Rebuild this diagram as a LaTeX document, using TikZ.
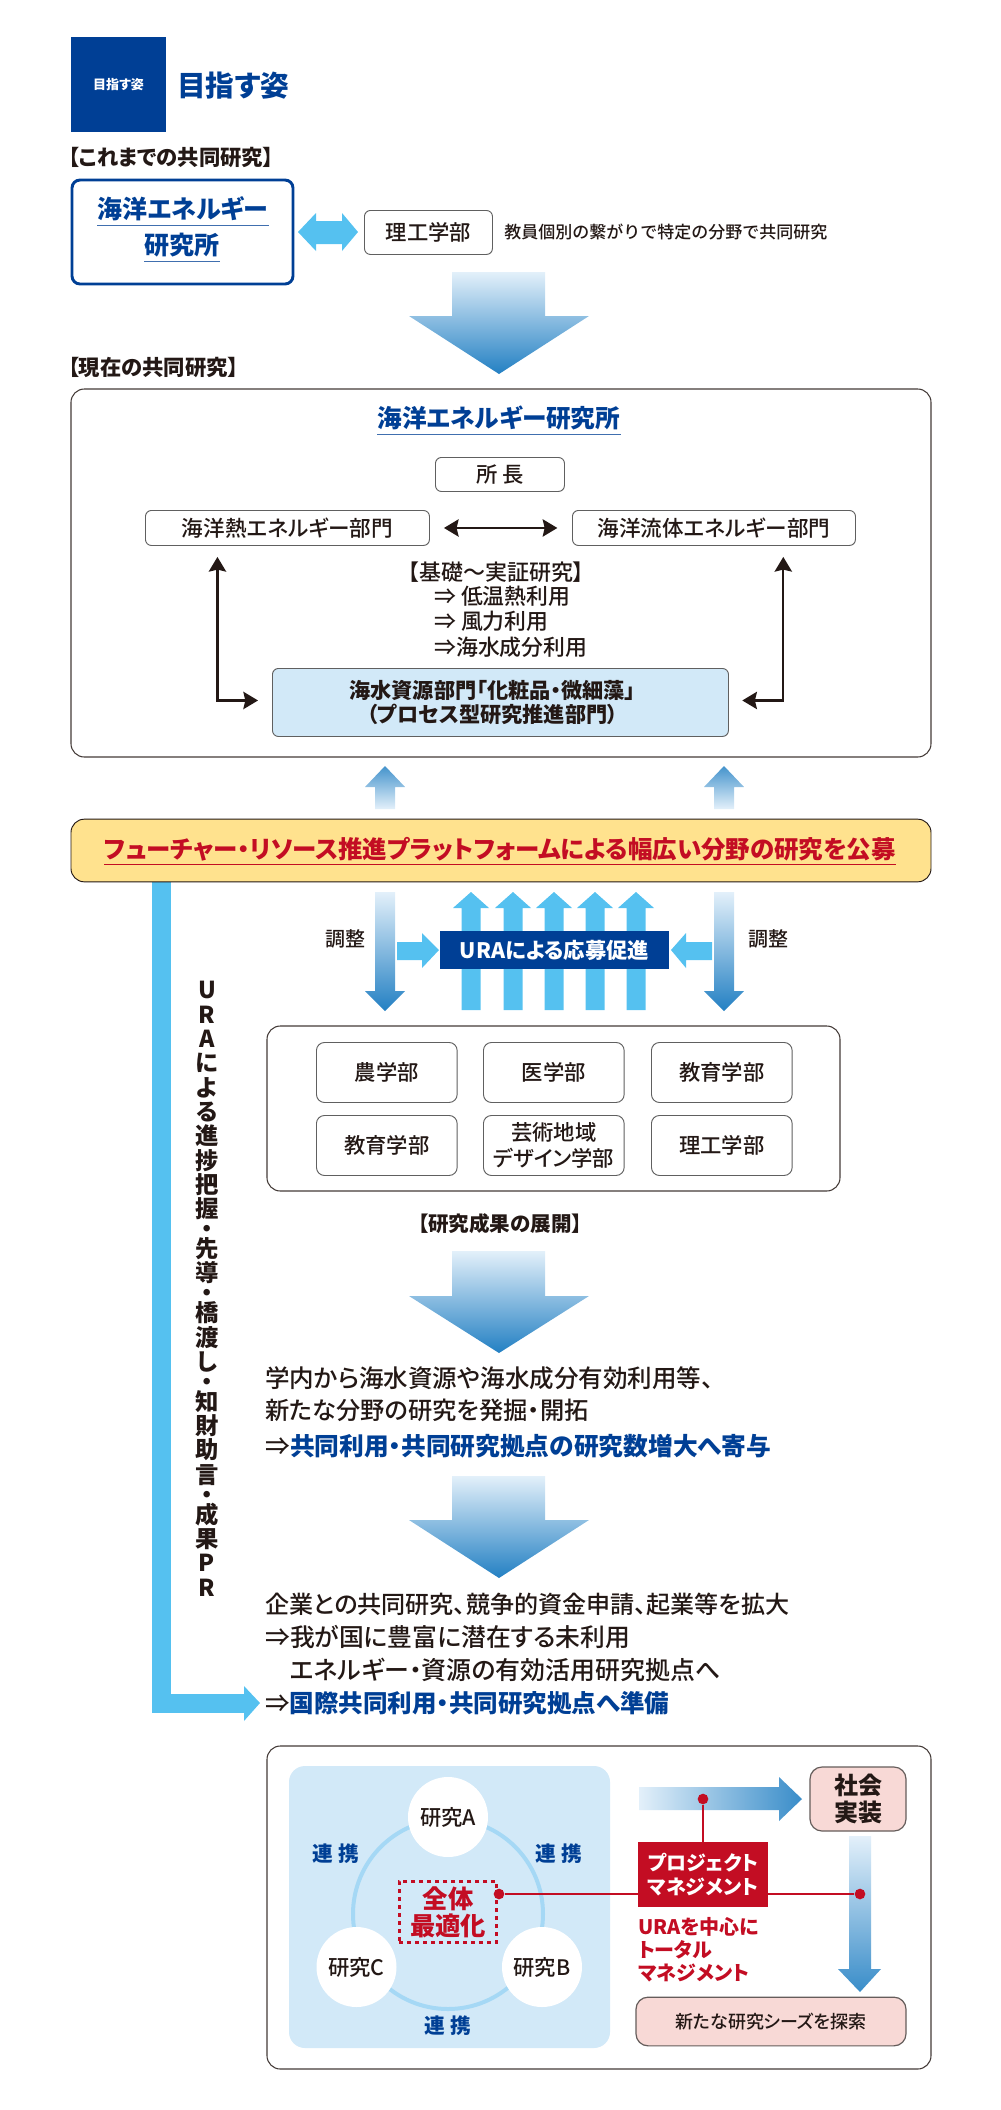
\documentclass[tikz,border=0pt]{standalone}
\usepackage{fontspec}
\setmainfont{Noto Sans CJK JP}[UprightFont={* Medium}, BoldFont={*/B}, RawFeature={+palt}]
\newfontfamily\fullwidth{Noto Sans CJK JP Medium}
\usetikzlibrary{arrows.meta}
\definecolor{ink}{HTML}{231815}
\definecolor{navy}{HTML}{003F95}
\definecolor{sky}{HTML}{55C1F0}
\definecolor{pale}{HTML}{D2E9F8}
\definecolor{ring}{HTML}{A5D8F5}
\definecolor{crimson}{HTML}{C30D23}
\definecolor{butter}{HTML}{FFE28E}
\definecolor{blush}{HTML}{F8D9D6}
\definecolor{fadetop}{HTML}{E3F0FA}
\definecolor{fadeend}{HTML}{2380C3}
\newcommand{\fz}[2][24]{\fontsize{#2}{#1}\selectfont}
\tikzset{
	lab/.style={inner sep=0pt, text=ink},
	box/.style={draw=gray!75!black, line width=0.7pt, rounded corners=4.5pt, fill=white, text=ink, inner sep=0pt, align=center, anchor=north west},
	bigbox/.style={draw=ink!85, line width=0.8pt, rounded corners=10pt, fill=white},
	pinkbox/.style={draw=ink!70, line width=0.9pt, rounded corners=9pt, fill=blush, inner sep=0pt, align=center, text=ink},
	fadedown/.style={top color=fadetop, bottom color=fadeend},
	fadeup/.style={top color=fadeend!85!white, bottom color=fadetop},
	uline/.style={draw=navy!75!white, line width=0.8pt},
	bidir/.style={draw=ink, line width=1.6pt, {Stealth[length=11pt,width=13pt,inset=1.5pt]}-{Stealth[length=11pt,width=13pt,inset=1.5pt]}},
	redline/.style={draw=crimson, line width=1pt},
	reddot/.style={circle, fill=crimson, inner sep=0pt, minimum size=8pt},
	seminar/.style={circle, fill=white, inner sep=0pt, minimum size=60pt, text=ink, font=\fz{16}},
	cooperate/.style={lab, text=navy, font=\bfseries\fz{15.5}},
}
\begin{document}
\begin{tikzpicture}[x=0.75pt, y=-0.75pt]
	\useasboundingbox (0,0) rectangle (1000,2110);

	% heading
	\fill [navy] (71,37) rectangle (166,132);
	\node [lab, text=white, font=\bfseries\fz{9.75}] (badge) at (118.5,85) {目指す姿};
	\node [lab, text=navy, font=\bfseries\fz{21.5}, anchor=west] (title) at (177,86) {目指す姿};

	% former research
	\node [lab, font=\bfseries\fz{16}, anchor=west] (former) at (68,157) {【これまでの共同研究】};
	\draw [navy, line width=2.2pt, rounded corners=6pt] (72,180) rectangle (293,284);
	\node [lab, text=navy, font=\bfseries\fz{18.75}] (oldlab-1) at (183,209) {海洋エネルギー};
	\node [lab, text=navy, font=\bfseries\fz{18.75}] (oldlab-2) at (182,245) {研究所};
	\draw [uline] ([yshift=-3pt]oldlab-1.south west) -- ([yshift=-3pt]oldlab-1.south east);
	\draw [uline] ([yshift=-3pt]oldlab-2.south west) -- ([yshift=-3pt]oldlab-2.south east);
	\node [box, minimum width=96pt, minimum height=33pt, font=\fz{16}] (science) at (364,210) {理工学部};
	\node [lab, font=\fullwidth\fz{12.75}, anchor=west] (oldnote) at (504,232) {教員個別の繋がりで特定の分野で共同研究};
	\fill [sky] (298,232) -- (316,213) -- (316,221) -- (342,221) -- (342,213) -- (358,232) -- (342,251) -- (342,244) -- (316,244) -- (316,251) -- cycle;

	% big arrows
	\foreach \ytop/\ysh/\ytip in {272/316/374, 1251/1296/1353, 1476/1520/1578}
	\shade [fadedown] (452,\ytop) -- (545,\ytop) -- (545,\ysh) -- (589,\ysh) -- (499,\ytip) -- (409,\ysh) -- (452,\ysh) -- cycle;

	% current research
	\node [lab, font=\bfseries\fz{16}, anchor=west] (current) at (68,367) {【現在の共同研究】};
	\draw [bigbox] (71,389) rectangle (931,757);
	\node [lab, text=navy, font=\bfseries\fz{18.5}] (curlab) at (499,418) {海洋エネルギー研究所};
	\draw [uline] ([yshift=-3pt]curlab.south west) -- ([yshift=-3pt]curlab.south east);
	\node [box, minimum width=96.75pt, minimum height=25.5pt, font=\fz{16}] (head) at (435,457) {所 長};
	\node [box, minimum width=213pt, minimum height=26.25pt, font=\fz{16.2}] (heat) at (145,510) {海洋熱エネルギー部門};
	\node [box, minimum width=212.25pt, minimum height=26.25pt, font=\fz{16.2}] (fluid) at (572,510) {海洋流体エネルギー部門};
	\draw [bidir] ([xshift=10.5pt]heat.east) -- ([xshift=-11pt]fluid.west);
	\node [lab, font=\fz{16.5}, anchor=west] (basic) at (408,572) {【基礎～実証研究】};
	\node [lab, font=\fz{16.4}, anchor=west] (use-1) at (434,596) {⇒ 低温熱利用};
	\node [lab, font=\fz{16.4}, anchor=west] (use-2) at (434,621) {⇒ 風力利用};
	\node [lab, font=\fz{16.4}, anchor=west] (use-3) at (434,647) {⇒海水成分利用};
	\node [box, fill=pale, minimum width=342pt, minimum height=51pt, font={\bfseries\fz[18]{15.9}}] (sea) at (272,668) {海水資源部門「化粧品・微細藻」\hspace*{12pt}\\（プロセス型研究推進部門）\hspace*{12pt}};
	\draw [bidir] ([xshift=-52.5pt, yshift=-8.25pt]heat.south) |- ([xshift=-10.5pt, yshift=1.5pt]sea.west);
	\draw [bidir] ([xshift=52pt, yshift=-8.25pt]fluid.south) |- ([xshift=10pt, yshift=1.5pt]sea.east);

	% platform
	\foreach \x in {385,724}
	\shade [fadeup] (\x-10,809) -- (\x-10,787) -- (\x-20,787) -- (\x,766) -- (\x+20,787) -- (\x+10,787) -- (\x+10,809) -- cycle;
	\fill [sky] (152,870) rectangle (171,1713);
	\fill [sky] (152,1694) rectangle (246,1713);
	\fill [sky] (244,1686) -- (260,1703) -- (244,1721) -- cycle;
	\node [draw=ink, line width=0.7pt, rounded corners=10pt, fill=butter, minimum width=645pt, minimum height=47pt, inner sep=0pt] (platform) at (501,850.5) {};
	\node [lab, text=crimson, font=\bfseries\fz{18.35}] (platformlab) at (500,849) {フューチャー・リソース推進プラットフォームによる幅広い分野の研究を公募};
	\draw [redline, line width=0.7pt] ([yshift=-2.5pt]platformlab.south west) -- ([yshift=-2.5pt]platformlab.south east);

	% URA promotion
	\foreach \x in {471,513,554,595,636}
	\fill [sky] (\x-9.5,1010) -- (\x-9.5,908) -- (\x-18,908) -- (\x,892) -- (\x+18,908) -- (\x+9.5,908) -- (\x+9.5,1010) -- cycle;
	\foreach \x in {385,724}
	\shade [fadedown] (\x-10,892) -- (\x+10,892) -- (\x+10,991) -- (\x+20,991) -- (\x,1011) -- (\x-20,991) -- (\x-10,991) -- cycle;
	\node [lab, font=\fz{15}] (adjust-1) at (345,939) {調整};
	\node [lab, font=\fz{15}] (adjust-2) at (768,939) {調整};
	\node [fill=navy, text=white, minimum width=172pt, minimum height=28.5pt, inner sep=0pt, font=\bfseries\fz{16}] (ura) at (554.5,950) {URAによる応募促進};
	\fill [sky] (397,942) -- (422,942) -- (422,933) -- (439,950) -- (422,968) -- (422,960) -- (397,960) -- cycle;
	\fill [sky] (712,942) -- (686,942) -- (686,933) -- (671,950) -- (686,968) -- (686,960) -- (712,960) -- cycle;

	% side text
	\node [lab, align=center, font={\bfseries\fz[18.25]{17.5}}, anchor=north] (sidelab) at (207,981) {U\\R\\A\\に\\よ\\る\\進\\捗\\把\\握\\[-3.3pt]・\\[-3.3pt]先\\導\\[-3.3pt]・\\[-3.3pt]橋\\渡\\し\\[-3.3pt]・\\[-3.3pt]知\\財\\助\\言\\[-3.3pt]・\\[-3.3pt]成\\果\\P\\R};

	% faculties
	\draw [bigbox] (267,1026) rectangle (840,1191);
	\foreach \nm/\x/\y/\t in {a/316/1042/農学部, b/483/1042/医学部, c/651/1042/教育学部, d/316/1115/教育学部, e/483/1115/{芸術地域\\デザイン学部}, f/651/1115/理工学部}
	\node [box, minimum width=105.5pt, minimum height=45pt, rounded corners=6pt, font={\fz[20]{16}}] (dept-\nm) at (\x,\y) {\t};
	\node [lab, font=\bfseries\fz{15.4}] (result) at (500,1224) {【研究成果の展開】};

	% outcomes
	\node [lab, font=\fz{18.4}, anchor=west] (out-1) at (265,1378) {学内から海水資源や海水成分有効利用等、};
	\node [lab, font=\fz{18.2}, anchor=west] (out-2) at (265,1410) {新たな分野の研究を発掘・開拓};
	\node [lab, font=\fz{18.55}, anchor=west] (out-3) at (265,1446) {⇒\textcolor{navy}{\bfseries 共同利用・共同研究拠点の研究数増大へ寄与}};
	\node [lab, font=\fz{18.07}, anchor=west] (out-4) at (265,1604) {企業との共同研究、競争的資金申請、起業等を拡大};
	\node [lab, font=\fz{18.6}, anchor=west] (out-5) at (265,1637) {⇒我が国に豊富に潜在する未利用};
	\node [lab, font=\fz{18.7}, anchor=west] (out-6) at (290,1670) {エネルギー・資源の有効活用研究拠点へ};
	\node [lab, font=\fz{18.4}, anchor=west] (out-7) at (265,1703) {⇒\textcolor{navy}{\bfseries 国際共同利用・共同研究拠点へ準備}};

	% management
	\draw [bigbox] (267,1746) rectangle (931,2069);
	\fill [pale, rounded corners=12pt] (289,1766) rectangle (610,2048);
	\draw [ring, line width=3pt] (448,1914) circle (95);
	\node [seminar] (lab-a) at (448,1817) {研究A};
	\node [seminar] (lab-c) at (356.5,1967) {研究C};
	\node [seminar] (lab-b) at (542,1967) {研究B};
	\node [cooperate] (link-1) at (336,1854) {連 携};
	\node [cooperate] (link-2) at (559,1854) {連 携};
	\node [cooperate] (link-3) at (448,2026) {連 携};
	\node [draw=crimson, dashed, line width=1.8pt, minimum width=73pt, minimum height=46pt, inner sep=0pt, align=center, text=crimson, font={\bfseries\fz[20.5]{19}}] (whole) at (448,1912) {全体\\最適化};
	\shade [left color=fadetop, right color=fadeend!90!white] (639,1787) -- (779,1787) -- (779,1777) -- (802,1799) -- (779,1821) -- (779,1810) -- (639,1810) -- cycle;
	\shade [top color=fadetop, bottom color=fadeend!90!white] (849,1836) -- (871,1836) -- (871,1969) -- (881,1969) -- (860,1992) -- (838,1969) -- (849,1969) -- cycle;
	\node [reddot] (dot-opt) at (499,1894) {};
	\node [reddot] (dot-down) at (860,1894) {};
	\node [reddot] (dot-right) at (703,1799) {};
	\node [fill=crimson, text=white, minimum width=97.5pt, minimum height=48.75pt, inner sep=0pt, align=center, font={\bfseries\fz[18.5]{15}}] (pm) at (703,1874.5) {プロジェクト\\マネジメント};
	\draw [redline] (dot-right) -- (dot-right |- pm.north);
	\draw [redline] (dot-opt) -- (dot-opt -| pm.west);
	\draw [redline] (dot-down -| pm.east) -- (dot-down);
	\node [pinkbox, minimum width=72pt, minimum height=48pt, font={\bfseries\fz[20.5]{18}}] (society) at (858,1799) {社会\\実装};
	\node [pinkbox, minimum width=202.5pt, minimum height=36.5pt, font=\fz{13.5}] (seeds) at (771,2021.5) {新たな研究シーズを探索};
	\node [lab, text=crimson, align=left, anchor=north west, font={\bfseries\fz[17.25]{15}}] (pmnote) at (638,1917) {URAを中心に\\トータル\\マネジメント};
\end{tikzpicture}
\end{document}
